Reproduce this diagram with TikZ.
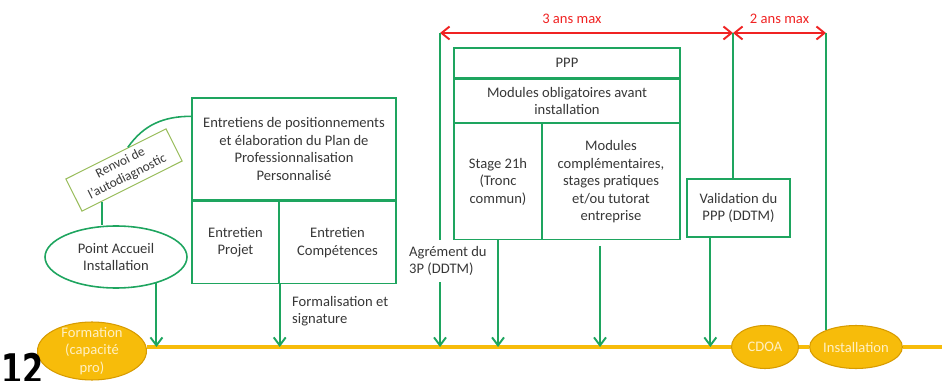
\documentclass[tikz,border=0pt]{standalone}
\usepackage{fontspec}
\setmainfont{Carlito}
\newfontfamily\numfont{DejaVu Sans Condensed}
\usetikzlibrary{shapes.geometric, arrows.meta, calc}
\definecolor{vert}{RGB}{30,165,95}
\definecolor{olive}{RGB}{155,190,95}
\definecolor{rouge}{RGB}{240,35,35}
\definecolor{jaune}{RGB}{247,188,10}
\definecolor{jaunefonce}{RGB}{215,155,0}
\definecolor{jauneclair}{RGB}{255,240,195}
\definecolor{texte}{RGB}{55,55,55}

\begin{document}
\begin{tikzpicture}[x=0.02cm, y=-0.02cm,
    every node/.style={font=\fontsize{8.3}{10}\selectfont, text=texte, align=center},
    boite/.style={draw=vert, line width=0.8pt, inner sep=0pt},
    ovale/.style={ellipse, draw=vert, line width=0.9pt, inner sep=0pt},
    jalon/.style={ellipse, fill=jaune, draw=jaunefonce, line width=0.6pt, text=jauneclair, inner xsep=0pt, inner ysep=-6pt},
    trait/.style={draw=vert, line width=0.9pt},
    fleche/.style={draw=vert, line width=1.1pt, -{Straight Barb[length=1.6mm, width=2.4mm]}},
    duree/.style={draw=rouge, line width=1.1pt, {Straight Barb[length=1.6mm, width=2.6mm]}-{Straight Barb[length=1.6mm, width=2.6mm]}},
    ligne/.style={draw=jaune, line width=2pt}]
    % Cadre
    \useasboundingbox (0,0) rectangle (942,381);
    \pgfmathsetmacro{\ytl}{347}
    \pgfmathsetmacro{\yduree}{33}
    \coordinate (tl) at (0,\ytl);

    % Jalons sur la ligne du temps
    \node[jalon, minimum width=2.18cm, minimum height=1.16cm] (form) at (92,351) {Formation\\ (capacité\\ pro)};
    \node[jalon, minimum width=1.34cm, minimum height=0.86cm] (cdoa) at (765,\ytl) {CDOA};
    \node[jalon, minimum width=1.76cm, minimum height=0.86cm] (inst) at (856,\ytl) {Installation};
    \coordinate (fin) at (942,\ytl);
    \draw[ligne] (form.east |- cdoa.west) -- (cdoa.west);
    \draw[ligne] (cdoa.east) -- (inst.west);
    \draw[ligne] (inst.east) -- (fin);
    \node[font=\numfont\bfseries\fontsize{24}{24}\selectfont, text=black, xscale=0.8, anchor=base west, inner sep=0pt] (num) at (1,384) {12};

    % Accueil et autodiagnostic
    \node[ovale, minimum width=2.84cm, minimum height=1.24cm] (pa) at (116,257) {Point Accueil\\ Installation};
    \node[draw=olive, line width=0.6pt, rotate=26.6, minimum width=2.24cm, minimum height=0.72cm, inner sep=0pt, font=\fontsize{7.6}{8.8}\selectfont] (renvoi) at (124,170) {Renvoi de\\ l’autodiagnostic};
    \coordinate (r1) at ($(renvoi.south west)!0.2!(renvoi.south east)$);
    \coordinate (r2) at ($(renvoi.north west)!0.62!(renvoi.north east)$);
    \draw[trait] (r1) -- (r1 |- pa.north);

    % Entretiens
    \node[boite, minimum width=4.08cm, minimum height=2.04cm] (entr) at (294,149) {Entretiens de positionnements\\ et élaboration du Plan de\\ Professionnalisation\\ Personnalisé};
    \node[boite, minimum width=1.74cm, minimum height=1.64cm, anchor=north west] (projet) at (entr.south west) {Entretien\\ Projet};
    \node[boite, minimum width=2.34cm, minimum height=1.64cm, anchor=north east] (comp) at (entr.south east) {Entretien\\ Compétences};
    \coordinate (e1) at ($(entr.north west)+(0,19)$);
    \draw[trait] (r2) to[out=55, in=180] (e1);
    \draw[fleche] (pa.-33) -- (pa.-33 |- tl);
    \draw[fleche] (projet.south east) -- (projet.south east |- tl);
    \node[anchor=west, align=left] (formal) at (286,311) {Formalisation et\\ signature};

    % PPP
    \node[boite, minimum width=4.52cm, minimum height=0.6cm] (ppp) at (567,63) {PPP};
    \node[boite, minimum width=4.52cm, minimum height=0.86cm, anchor=north] (oblig) at (ppp.south) {Modules obligatoires avant\\ installation};
    \node[boite, minimum width=1.76cm, minimum height=2.32cm, anchor=north west] (stage) at (oblig.south west) {Stage 21h\\ (Tronc\\ commun)};
    \node[boite, minimum width=2.76cm, minimum height=2.32cm, anchor=north east] (modc) at (oblig.south east) {Modules\\ complémentaires,\\ stages pratiques\\ et/ou tutorat\\ entreprise};
    \node[boite, minimum width=2.06cm, minimum height=1.16cm] (valid) at (738.5,208) {Validation du\\ PPP (DDTM)};

    % Durees
    \coordinate (d0) at (440,\yduree);
    \coordinate (d1) at (733,\yduree);
    \coordinate (d2) at (826,\yduree);
    \draw[duree] (d0) -- node[pos=0.45, above=4pt, inner sep=1pt, text=rouge] (l3) {3 ans max} (d1);
    \draw[duree] (d1) -- node[above=4pt, inner sep=1pt, text=rouge] (l2) {2 ans max} (d2);

    % Agrement et fleches vers la ligne
    \node[anchor=west, align=left] (agr) at (403,261) {Agrément du\\ 3P (DDTM)};
    \draw[trait] (d0) -- (d0 |- agr.north);
    \draw[fleche] (d0 |- agr.south) -- (d0 |- tl);
    \draw[fleche] (stage.south) -- (stage.south |- tl);
    \coordinate (m) at (600,246);
    \draw[fleche] (m) -- (m |- tl);
    \draw[trait] (d1) -- (d1 |- valid.north);
    \coordinate (v) at ($(valid.south west)+(24,0)$);
    \draw[fleche] (v) -- (v |- tl);
    \draw[trait] (d2) -- (d2 |- inst.150);
\end{tikzpicture}
\end{document}
